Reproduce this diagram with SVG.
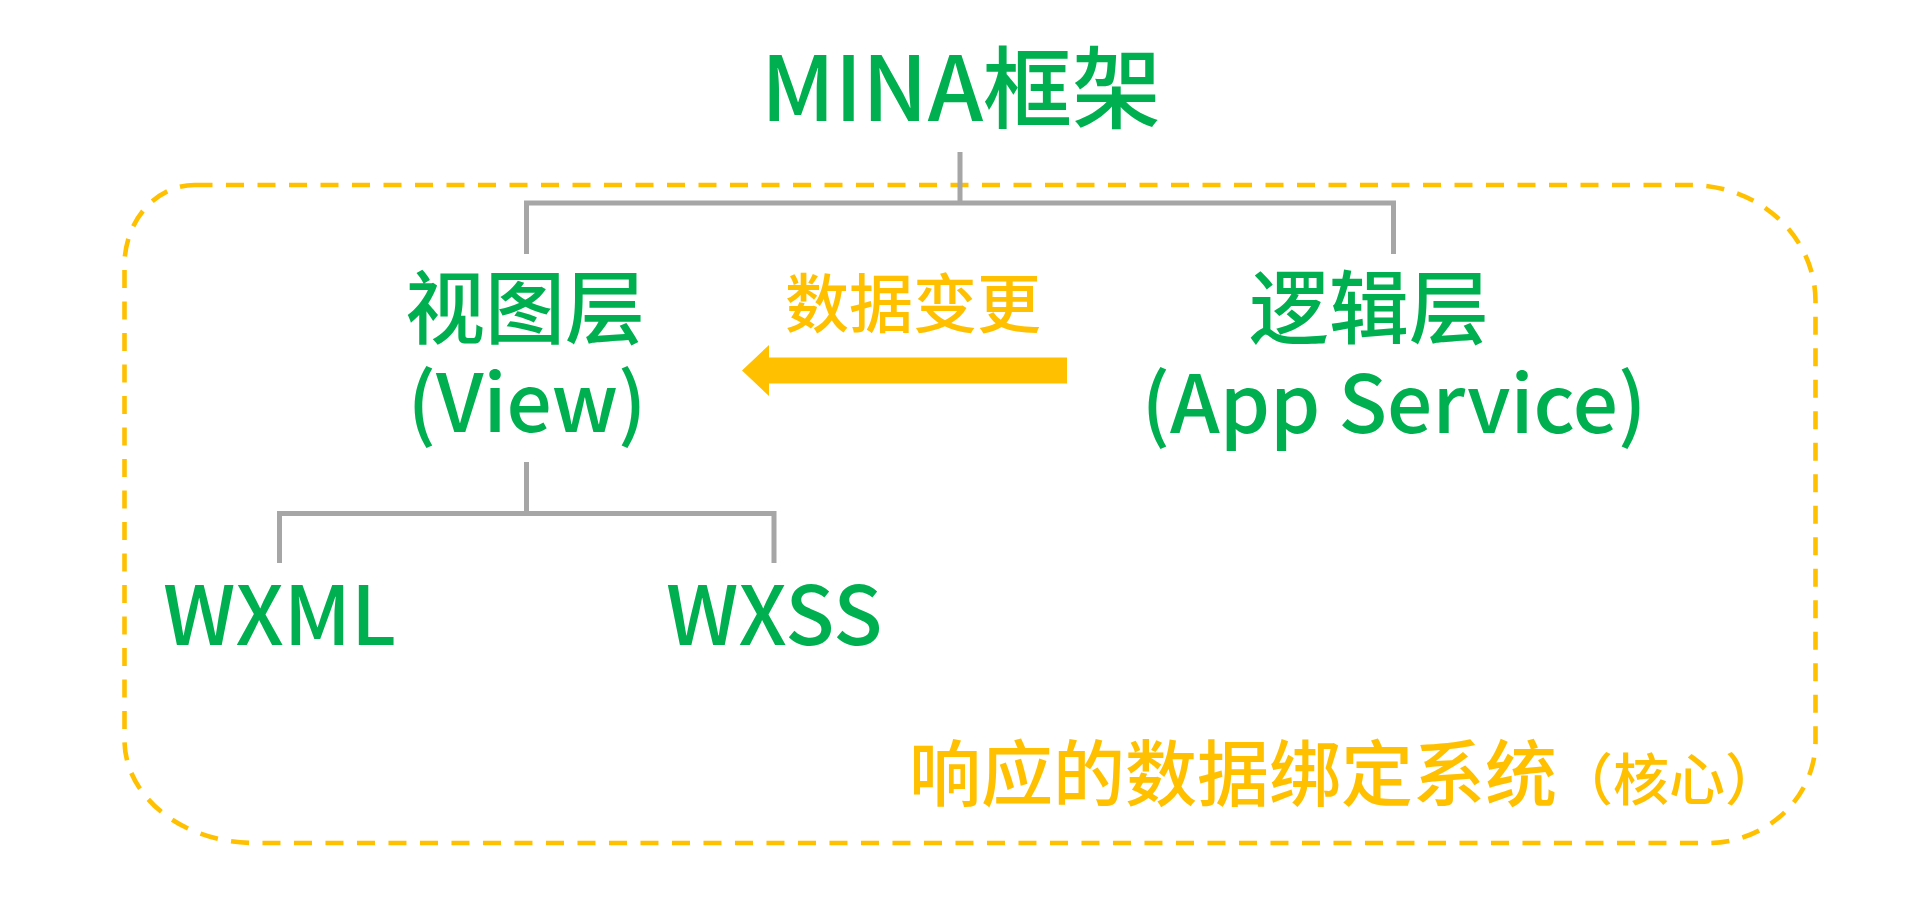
<svg xmlns="http://www.w3.org/2000/svg" width="1920" height="904" viewBox="0 0 1920 904">
  <style>
    .t { font-family: "Noto Sans CJK SC", "Noto Sans", sans-serif; font-weight: 500; }
    .g { fill: #00B050; }
    .y { fill: #FFC000; }
    .tree { fill: none; stroke: #A6A6A6; stroke-width: 5; stroke-linecap: butt; stroke-linejoin: miter; }
    .frame { fill: none; stroke: #FFC000; stroke-width: 4.6; stroke-dasharray: 18 13.5; }
  </style>
  <rect width="1920" height="904" fill="#FFFFFF"/>

  <g id="binding-frame">
    <path class="frame" d="M194.5,185 H1690.5 A125,116 0 0 1 1815.5,301 V741 A108,102 0 0 1 1707.5,843 H254.5 A130,103 0 0 1 124.5,740 V265 A70,80 0 0 1 194.5,185 Z"/>
    <text class="t y" x="909" y="800" font-size="72">响应的数据绑定系统<tspan font-size="56">（核心）</tspan></text>
  </g>

  <g id="connectors">
    <path class="tree" d="M960,152 V203 M526.5,254 V203 H1393.5 V254"/>
    <path class="tree" d="M526.5,462 V513.5 M279.5,563 V513.5 H774 V563"/>
    <polygon id="data-change-arrow" fill="#FFC000" points="742,370.5 769,345 769,357.5 1067,357.5 1067,383.5 769,383.5 769,396"/>
  </g>

  <g id="mina">
    <text class="t g" x="961" y="121" font-size="89" text-anchor="middle">MINA框架</text>
  </g>

  <g id="view-layer">
    <text class="t g" x="525" y="337" font-size="80" text-anchor="middle">视图层</text>
    <text class="t g" x="527" y="432" font-size="80" text-anchor="middle">(View)</text>
  </g>

  <g id="logic-layer">
    <text class="t g" x="1369" y="337" font-size="80" text-anchor="middle">逻辑层</text>
    <text class="t g" x="1394" y="433" font-size="80" text-anchor="middle">(App Service)</text>
  </g>

  <g id="data-change-label">
    <text class="t y" x="913" y="327" font-size="64" text-anchor="middle">数据变更</text>
  </g>

  <g id="wxml">
    <text class="t g" x="163" y="645" font-size="81">WXML</text>
  </g>

  <g id="wxss">
    <text class="t g" x="666" y="645" font-size="81">WXSS</text>
  </g>
</svg>
